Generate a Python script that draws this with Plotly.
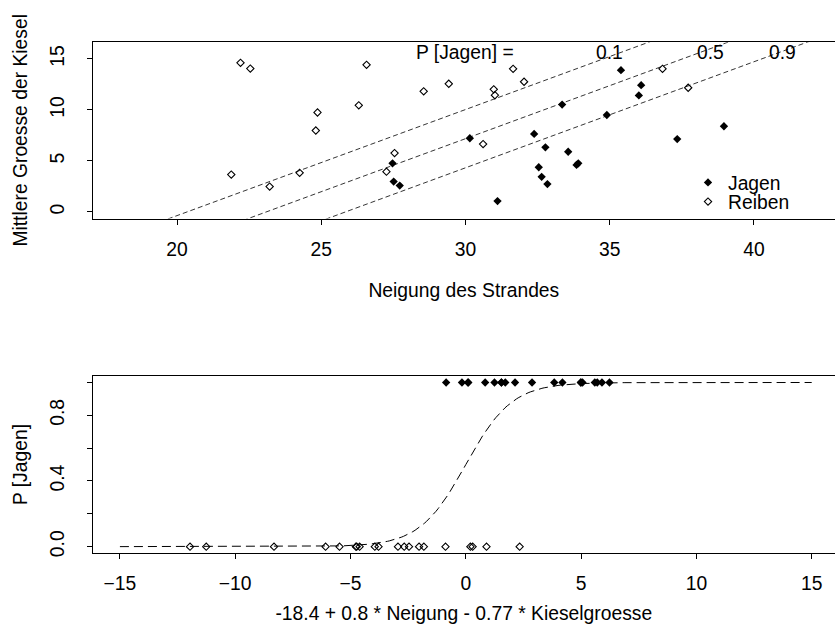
import numpy as np
import plotly.graph_objects as go

# ---- data ----
jagen_neigung = [27.47, 27.51, 27.72, 30.15, 35.39, 36.09, 36.01, 33.35, 34.90, 32.38,
                 32.77, 33.56, 33.85, 33.91, 32.54, 32.64, 32.84, 31.11, 37.34, 38.96]
jagen_kiesel = [4.77, 2.98, 2.59, 7.22, 13.89, 12.42, 11.42, 10.52, 9.50, 7.65,
                6.33, 5.90, 4.61, 4.77, 4.38, 3.44, 2.73, 1.07, 7.14, 8.40]
reiben_neigung = [22.20, 22.54, 26.57, 28.55, 29.42, 26.30, 24.87, 24.81, 21.88, 23.21,
                  24.25, 27.54, 27.26, 31.65, 32.03, 30.98, 31.02, 30.61, 36.83, 37.72]
reiben_kiesel = [14.61, 14.05, 14.42, 11.82, 12.56, 10.45, 9.75, 7.98, 3.66, 2.49,
                 3.84, 5.77, 3.95, 14.02, 12.76, 12.02, 11.44, 6.65, 14.02, 12.17]

# logistic model coefficients (intercept, Neigung, Kieselgroesse)
b0, b1, b2 = -18.47, 0.80, 0.77
p_levels = [0.1, 0.5, 0.9]
p_labels = ["0.1", "0.5", "0.9"]
p_label_x = [35.0, 38.5, 41.0]

x_ticks_top = [20, 25, 30, 35, 40]
y_ticks_top = [0, 5, 10, 15]
x_ticks_bot = [-15, -10, -5, 0, 5, 10, 15]
y_ticks_bot = [0.0, 0.2, 0.4, 0.6, 0.8, 1.0]
y_ticktext_bot = ["0.0", "", "0.4", "", "0.8", ""]

FONT = "Liberation Sans, Arial, Helvetica, sans-serif"
FS = 19.3

W, H = 835, 637
def py(px):
    return 1 - px / H

xr_top = [17.076, 42.81]
yr_top = [-0.64, 16.64]
xr_bot = [-16.18, 16.01]
yr_bot = [-0.04, 1.04]

fig = go.Figure()

# top panel points
fig.add_trace(go.Scatter(x=jagen_neigung, y=jagen_kiesel, mode="markers", name="Jagen",
                         marker=dict(symbol="diamond", size=6.4, color="black"),
                         xaxis="x", yaxis="y", legend="legend"))
fig.add_trace(go.Scatter(x=reiben_neigung, y=reiben_kiesel, mode="markers", name="Reiben",
                         marker=dict(symbol="diamond-open", size=5.6, color="black",
                                     line=dict(width=1.1, color="black")),
                         xaxis="x", yaxis="y", legend="legend2"))

# iso-probability lines
xl = np.array(xr_top)
for p in p_levels:
    lg = np.log(p / (1 - p))
    yl = (b0 + b1 * xl - lg) / b2
    fig.add_trace(go.Scatter(x=xl, y=yl, mode="lines", showlegend=False,
                             line=dict(color="black", width=0.8, dash="5px,3px"),
                             xaxis="x", yaxis="y", hoverinfo="skip"))

# bottom panel
lp_j = b0 + b1 * np.array(jagen_neigung) - b2 * np.array(jagen_kiesel)
lp_r = b0 + b1 * np.array(reiben_neigung) - b2 * np.array(reiben_kiesel)
z = np.linspace(-15, 15, 301)
fig.add_trace(go.Scatter(x=z, y=1 / (1 + np.exp(-z)), mode="lines", showlegend=False,
                         line=dict(color="black", width=1, dash="9px,5px"),
                         xaxis="x2", yaxis="y2", hoverinfo="skip"))
fig.add_trace(go.Scatter(x=lp_j, y=np.ones_like(lp_j), mode="markers", showlegend=False,
                         marker=dict(symbol="diamond", size=6.4, color="black"),
                         xaxis="x2", yaxis="y2"))
fig.add_trace(go.Scatter(x=lp_r, y=np.zeros_like(lp_r), mode="markers", showlegend=False,
                         marker=dict(symbol="diamond-open", size=5.6, color="black",
                                     line=dict(width=1.1, color="black")),
                         xaxis="x2", yaxis="y2"))

# text annotations in the top panel
ann = [dict(x=30.0, y=15.6, xref="x", yref="y", text="P [Jagen] =", showarrow=False,
            font=dict(family=FONT, size=FS, color="black"))]
for lab, lx in zip(p_labels, p_label_x):
    ann.append(dict(x=lx, y=15.6, xref="x", yref="y", text=lab, showarrow=False,
                    font=dict(family=FONT, size=FS, color="black")))

axcommon = dict(showline=True, linecolor="black", linewidth=1, ticks="outside",
                ticklen=5, tickwidth=1, tickcolor="black", showgrid=False, zeroline=False,
                tickfont=dict(family=FONT, size=FS, color="black"))

leg = dict(xanchor="left", yanchor="middle", bgcolor="rgba(0,0,0,0)", borderwidth=0,
           font=dict(family=FONT, size=FS, color="black"))

dom_x = [92.7 / W, 1.0]
fig.update_layout(
    width=W, height=H, margin=dict(l=0, r=0, t=0, b=0),
    paper_bgcolor="white", plot_bgcolor="white",
    font=dict(family=FONT, size=FS, color="black"),
    xaxis=dict(domain=dom_x, range=xr_top, tickvals=x_ticks_top, mirror=True,
               anchor="y", ticklabelstandoff=8,
               title=dict(text="Neigung des Strandes", standoff=24,
                          font=dict(family=FONT, size=FS)), **axcommon),
    yaxis=dict(domain=[py(219.9), py(42.4)], range=yr_top, tickvals=y_ticks_top,
               anchor="x", tickangle=-90, ticklabelstandoff=15,
               title=dict(text="Mittlere Groesse der Kiesel", standoff=14,
                          font=dict(family=FONT, size=FS)), **axcommon),
    xaxis2=dict(domain=dom_x, range=xr_bot, tickvals=x_ticks_bot, mirror=True,
                anchor="y2", ticklabelstandoff=8,
                title=dict(text="-18.4 + 0.8 * Neigung - 0.77 * Kieselgroesse", standoff=13,
                           font=dict(family=FONT, size=FS)), **axcommon),
    yaxis2=dict(domain=[py(556.7), py(378.3)], range=yr_bot, tickvals=y_ticks_bot,
                ticktext=y_ticktext_bot, anchor="x2", tickangle=-90, ticklabelstandoff=15,
                title=dict(text="P [Jagen]", standoff=14,
                           font=dict(family=FONT, size=FS)), **axcommon),
    legend=dict(x=688 / W, y=py(184), **leg),
    legend2=dict(x=688 / W, y=py(203.3), **leg),
    annotations=ann, showlegend=True,
)

fig.write_html("out.html")
